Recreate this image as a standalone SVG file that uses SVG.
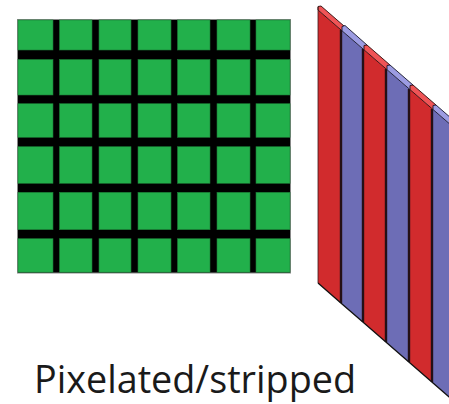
<svg xmlns="http://www.w3.org/2000/svg" width="449" height="404" viewBox="0 0 449 404">
<style>
.cell{fill:#22b04b;stroke:#1c7a36;stroke-width:0.6}
.red{fill:#d12b2d}
.blue{fill:#6d6db6}
.rcap{fill:#ef5456;stroke:#2a0a0a;stroke-width:0.9}
.bcap{fill:#9c9ce2;stroke:#15152a;stroke-width:0.9}
.shade{stroke:#241016;stroke-width:2.4;fill:none}
.edge{stroke:#111;stroke-width:1.3;fill:none}
.lbl{font-family:"Open Sans","DejaVu Sans",sans-serif;font-size:39px;fill:#1a1a1a}
</style>
<g id="pixel-grid">
<rect x="17.5" y="19.5" width="273" height="253.5" fill="#000" stroke="#888" stroke-width="1"/>
<g>
<rect class="cell" x="18" y="20" width="35" height="30"/><rect class="cell" x="59.5" y="20" width="32.5" height="30"/><rect class="cell" x="99" y="20" width="32" height="30"/><rect class="cell" x="138" y="20" width="33" height="30"/><rect class="cell" x="177.5" y="20" width="32.5" height="30"/><rect class="cell" x="217" y="20" width="33" height="30"/><rect class="cell" x="256" y="20" width="34" height="30"/>
<rect class="cell" x="18" y="59.5" width="35" height="35.5"/><rect class="cell" x="59.5" y="59.5" width="32.5" height="35.5"/><rect class="cell" x="99" y="59.5" width="32" height="35.5"/><rect class="cell" x="138" y="59.5" width="33" height="35.5"/><rect class="cell" x="177.5" y="59.5" width="32.5" height="35.5"/><rect class="cell" x="217" y="59.5" width="33" height="35.5"/><rect class="cell" x="256" y="59.5" width="34" height="35.5"/>
<rect class="cell" x="18" y="103.7" width="35" height="33.6"/><rect class="cell" x="59.5" y="103.7" width="32.5" height="33.6"/><rect class="cell" x="99" y="103.7" width="32" height="33.6"/><rect class="cell" x="138" y="103.7" width="33" height="33.6"/><rect class="cell" x="177.5" y="103.7" width="32.5" height="33.6"/><rect class="cell" x="217" y="103.7" width="33" height="33.6"/><rect class="cell" x="256" y="103.7" width="34" height="33.6"/>
<rect class="cell" x="18" y="146.7" width="35" height="36.6"/><rect class="cell" x="59.5" y="146.7" width="32.5" height="36.6"/><rect class="cell" x="99" y="146.7" width="32" height="36.6"/><rect class="cell" x="138" y="146.7" width="33" height="36.6"/><rect class="cell" x="177.5" y="146.7" width="32.5" height="36.6"/><rect class="cell" x="217" y="146.7" width="33" height="36.6"/><rect class="cell" x="256" y="146.7" width="34" height="36.6"/>
<rect class="cell" x="18" y="192.3" width="35" height="37.4"/><rect class="cell" x="59.5" y="192.3" width="32.5" height="37.4"/><rect class="cell" x="99" y="192.3" width="32" height="37.4"/><rect class="cell" x="138" y="192.3" width="33" height="37.4"/><rect class="cell" x="177.5" y="192.3" width="32.5" height="37.4"/><rect class="cell" x="217" y="192.3" width="33" height="37.4"/><rect class="cell" x="256" y="192.3" width="34" height="37.4"/>
<rect class="cell" x="18" y="238.7" width="35" height="33.5"/><rect class="cell" x="59.5" y="238.7" width="32.5" height="33.5"/><rect class="cell" x="99" y="238.7" width="32" height="33.5"/><rect class="cell" x="138" y="238.7" width="33" height="33.5"/><rect class="cell" x="177.5" y="238.7" width="32.5" height="33.5"/><rect class="cell" x="217" y="238.7" width="33" height="33.5"/><rect class="cell" x="256" y="238.7" width="34" height="33.5"/>
</g>
</g>
<g id="stripes">
<polygon class="red" points="318,10 342,30.8 342,303.9 318,283"/>
<polygon class="blue" points="342,30.8 364,49.8 364,323 342,303.9"/>
<polygon class="red" points="364,49.8 387,69.7 387,343 364,323"/>
<polygon class="blue" points="387,69.7 410,89.6 410,363 387,343"/>
<polygon class="red" points="410,89.6 433,109.5 433,383 410,363"/>
<polygon class="blue" points="433,109.5 456,129.4 456,403 433,383"/>
<line class="shade" x1="341" y1="30" x2="341" y2="303"/>
<line class="shade" x1="363" y1="49" x2="363" y2="322"/>
<line class="shade" x1="386" y1="69" x2="386" y2="342"/>
<line class="shade" x1="409" y1="89" x2="409" y2="362"/>
<line class="shade" x1="432" y1="109" x2="432" y2="382"/>
<polygon class="rcap" points="318,6.5 321,6 344,26 342,30.8 318,10"/>
<polygon class="bcap" points="342,26.5 345,25.5 367,45 364,49.8 342,30.8"/>
<polygon class="rcap" points="364,45.5 367,45 390,65 387,69.7 364,49.8"/>
<polygon class="bcap" points="387,65.5 390,65 413,85 410,89.6 387,69.7"/>
<polygon class="rcap" points="410,85.5 413,85 436,105 433,109.5 410,89.6"/>
<polygon class="bcap" points="433,105.5 436,105 459,125 456,129.4 433,109.5"/>
<polyline class="edge" points="318,283 342,303.9 364,323 387,343 410,363 433,383 456,403"/>
<line x1="318" y1="7" x2="318" y2="283" stroke="#3a1a1a" stroke-width="0.8"/>
</g>
<text class="lbl" x="34" y="393" textLength="322" lengthAdjust="spacingAndGlyphs">Pixelated/stripped</text>
</svg>
